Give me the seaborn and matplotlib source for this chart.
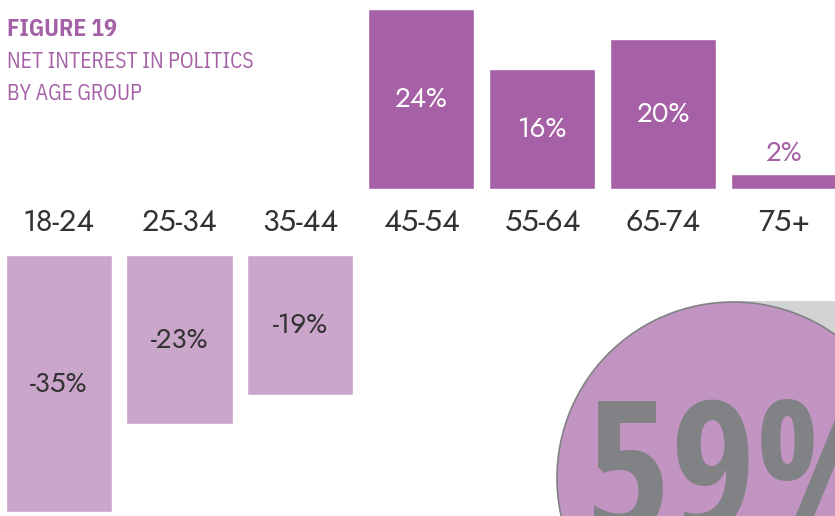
import matplotlib
matplotlib.use("Agg")
import matplotlib.pyplot as plt
import seaborn as sns
from matplotlib.patches import Circle, Rectangle

# data
age_groups = ["18-24", "25-34", "35-44", "45-54", "55-64", "65-74", "75+"]
net_interest = [-35, -23, -19, 24, 16, 20, 2]
headline_value = "59%"

DARK = "#A661A6"
LIGHT = "#CBA6CB"
TITLE = "#A561A6"
TEXT = "#333333"
GREY = "#808285"

sns.set_theme(style="white")
plt.rcParams["font.family"] = ["Jost", "Lato", "DejaVu Sans"]
narrow = ["IBM Plex Sans Condensed", "Open Sans", "DejaVu Sans"]
heavy = ["Open Sans Condensed", "DejaVu Sans"]

W, H = 835, 516
fig = plt.figure(figsize=(W / 100, H / 100), dpi=100)

bar_colors = [DARK if v > 0 else LIGHT for v in net_interest]

# top panel: positive bars, bottom panel: negative bars (same plot, clipped)
ax_top = fig.add_axes([0, (H - 189) / H, 1, 189 / H])
ax_bot = fig.add_axes([0, 0, 1, (H - 255) / H])

for ax in (ax_top, ax_bot):
    sns.barplot(x=age_groups, y=net_interest, hue=age_groups, palette=bar_colors,
                legend=False, width=0.877, saturation=1, ax=ax)
    ax.set_xlim(-0.484, 6.42)
    ax.axis("off")

ax_top.set_ylim(0, 25.2)
ax_bot.set_ylim(-35.5, 0)

# category labels in the gap
for i, lab in enumerate(age_groups):
    ax_top.text(i, -34 / 189, lab, transform=ax_top.get_xaxis_transform(),
                ha="center", va="center", fontsize=22, fontweight="light", color=TEXT)

# value labels
for i, v in enumerate(net_interest):
    if v > 0:
        if v < 5:
            ax_top.text(i, v + 2.8, f"{v}%", ha="center", va="center",
                        fontsize=20, fontweight="light", color=DARK)
        else:
            ax_top.text(i, v / 2, f"{v}%", ha="center", va="center",
                        fontsize=20, fontweight="light", color="white")
    else:
        ax_bot.text(i, v / 2, f"{v}%", ha="center", va="center",
                    fontsize=20, fontweight="light", color=TEXT)

# decoration layer in pixel coordinates
deco = fig.add_axes([0, 0, 1, 1], zorder=-1)
deco.set_xlim(0, W)
deco.set_ylim(H, 0)
deco.axis("off")
deco.add_patch(Rectangle((733, 301), 200, 300, facecolor="#D1D3D4", edgecolor="none"))
deco.add_patch(Circle((733, 478), 176, facecolor="#C194C2", edgecolor=GREY, linewidth=1.2))
deco.text(586, 532, headline_value, ha="left", va="baseline", fontsize=132,
          fontweight="bold", color=GREY, family=heavy)

# title block
deco.text(7, 36, "FIGURE 19", ha="left", va="baseline", fontsize=17,
          fontweight="bold", color=TITLE, family=narrow)
deco.text(7, 68, "NET INTEREST IN POLITICS", ha="left", va="baseline",
          fontsize=15.5, color=TITLE, family=narrow)
deco.text(7, 100, "BY AGE GROUP", ha="left", va="baseline",
          fontsize=15.5, color=TITLE, family=narrow)

fig.savefig("out.png", dpi=100)
